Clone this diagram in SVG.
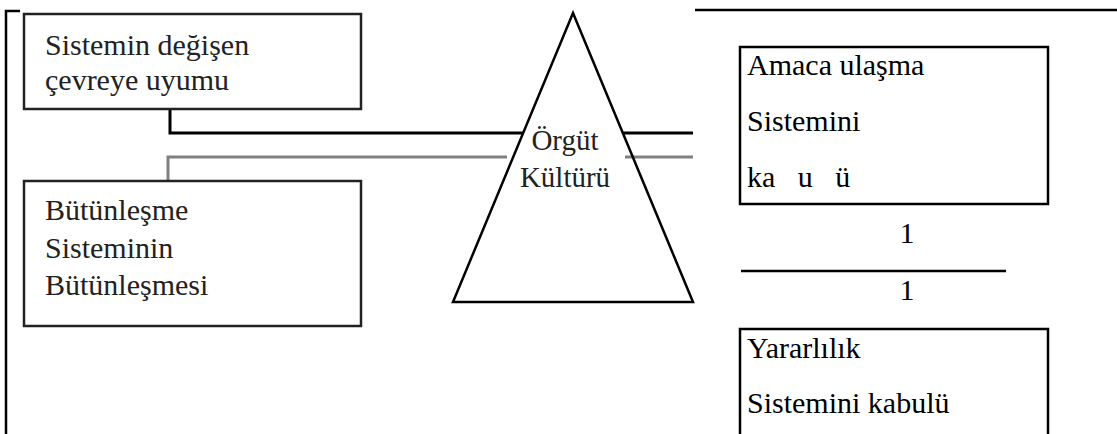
<svg xmlns="http://www.w3.org/2000/svg" width="1117" height="434" viewBox="0 0 1117 434">
<style>
text{font-family:"Liberation Serif","Times New Roman","DejaVu Serif",serif}
.t{font-size:30px;fill:#000}
.tl{font-size:30px;fill:#222}
.tk{font-size:29px;fill:#222}
.box{fill:#fff;stroke:#000;stroke-width:2.5}
.boxl{fill:#fff;stroke:#222;stroke-width:2.5}
.blk{fill:none;stroke:#000;stroke-width:3}
.gry{fill:none;stroke:#808080;stroke-width:3}
</style>
<rect width="1117" height="434" fill="#fff"/>
<g id="frame">
<path d="M20,11 H6 V434" fill="none" stroke="#000" stroke-width="2.5"/>
<path d="M695,10 H1117" fill="none" stroke="#000" stroke-width="2.5"/>
</g>
<g id="connectors">
<path class="blk" d="M170,109 V133 H523"/>
<path class="blk" d="M623,133 H693"/>
<path class="gry" d="M168,181 V157 H507"/>
<path class="gry" d="M625,157 H693"/>
</g>
<g id="node-uyum">
<rect class="boxl" x="24" y="14" width="337" height="95"/>
<text class="tl" x="45" y="55">Sistemin değişen</text>
<text class="tl" x="45" y="90">çevreye uyumu</text>
</g>
<g id="node-butunlesme">
<rect class="boxl" x="24" y="181" width="337" height="145"/>
<text class="tl" x="45" y="220">Bütünleşme</text>
<text class="tl" x="45" y="258">Sisteminin</text>
<text class="tl" x="45" y="295">Bütünleşmesi</text>
</g>
<g id="node-kultur">
<path d="M573,13 L693,302 H453 Z" fill="none" stroke="#000" stroke-width="2.5"/>
<text class="tk" x="565" y="150" text-anchor="middle">Örgüt</text>
<text class="tk" x="565" y="187" text-anchor="middle">Kültürü</text>
</g>
<g id="node-amac">
<rect class="box" x="740" y="47" width="308" height="157"/>
<text class="t" x="747" y="75">Amaca ulaşma</text>
<text class="t" x="747" y="131">Sistemini</text>
<text class="t" x="747" y="187" xml:space="preserve">ka   u   ü</text>
</g>
<g id="node-oran">
<text class="t" x="907" y="243" text-anchor="middle">1</text>
<path d="M741,271 H1006" stroke="#000" stroke-width="2.5"/>
<text class="t" x="907" y="300" text-anchor="middle">1</text>
</g>
<g id="node-yarar">
<rect class="box" x="740" y="329" width="308" height="120"/>
<text class="t" x="747" y="358">Yararlılık</text>
<text class="t" x="747" y="413">Sistemini kabulü</text>
</g>
</svg>
